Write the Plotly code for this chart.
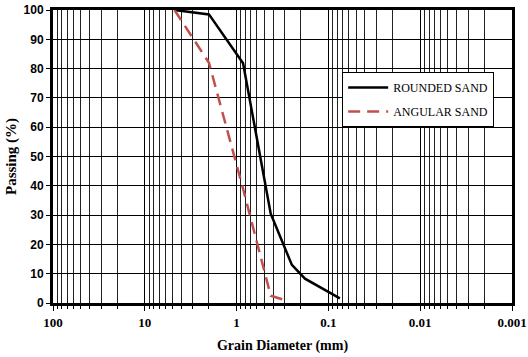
import plotly.graph_objects as go

# Data
rounded_d = [4.75, 2.0, 0.85, 0.425, 0.25, 0.18, 0.075]
rounded_p = [100.0, 98.5, 81.8, 30.5, 13.0, 8.3, 1.6]
angular_d = [4.75, 2.0, 0.85, 0.425, 0.3]
angular_p = [100.0, 82.0, 39.0, 2.5, 1.0]

major_vals = [100, 10, 1, 0.1, 0.01, 0.001]
major_text = ["100", "10", "1", "0.1", "0.01", "0.001"]
minor_vals = []
for dec in [10, 1, 0.1, 0.01, 0.001]:
    for m in range(2, 10):
        minor_vals.append(m * dec)

fig = go.Figure()
fig.add_trace(go.Scatter(x=rounded_d, y=rounded_p, mode="lines", name="ROUNDED SAND",
                         legendgroup="a",
                         line=dict(color="black", width=2.5)))
fig.add_trace(go.Scatter(x=angular_d, y=angular_p, mode="lines", name="ANGULAR SAND",
                         legendgroup="b",
                         line=dict(color="#C0504D", width=2.5, dash="12px,7px")))

serif = "Liberation Serif"
fig.update_layout(
    width=528, height=357,
    margin=dict(l=53, r=16, t=10, b=54),
    paper_bgcolor="white", plot_bgcolor="white",
    legend=dict(x=0.63, y=0.788, xanchor="left", yanchor="top",
                bgcolor="white", bordercolor="black", borderwidth=1,
                font=dict(family=serif, size=12, color="black"),
                itemwidth=40, entrywidth=140, traceorder="grouped", tracegroupgap=5),
    showlegend=True,
)
fig.update_xaxes(
    type="log", range=[2, -3],
    tickmode="array", tickvals=major_vals, ticktext=major_text,
    ticklabeloverflow="allow", automargin=False,
    showgrid=True, gridcolor="black", gridwidth=1,
    ticks="outside", ticklen=5, tickcolor="black",
    minor=dict(tickmode="array", tickvals=minor_vals, showgrid=True,
               gridcolor="#222", gridwidth=1, ticks="outside", ticklen=3, tickcolor="black"),
    showline=True, linecolor="black", linewidth=3, mirror=True,
    tickfont=dict(family=serif, size=13, color="black", weight="bold"),
    title=dict(text="<b>Grain Diameter (mm)</b>", font=dict(family=serif, size=14, color="black"),
               standoff=12),
    zeroline=False,
)
fig.update_yaxes(
    range=[0, 100], tickmode="linear", tick0=0, dtick=10,
    automargin=False,
    showgrid=True, gridcolor="black", gridwidth=1,
    ticks="outside", ticklen=4, tickcolor="black",
    showline=True, linecolor="black", linewidth=3, mirror=True,
    tickfont=dict(family="Liberation Sans Narrow, Liberation Sans", size=12, color="black", weight="bold"),
    title=dict(text="<b>Passing (%)</b>", font=dict(family=serif, size=15, color="black"),
               standoff=4),
    zeroline=False,
)
fig.write_html("out.html")
